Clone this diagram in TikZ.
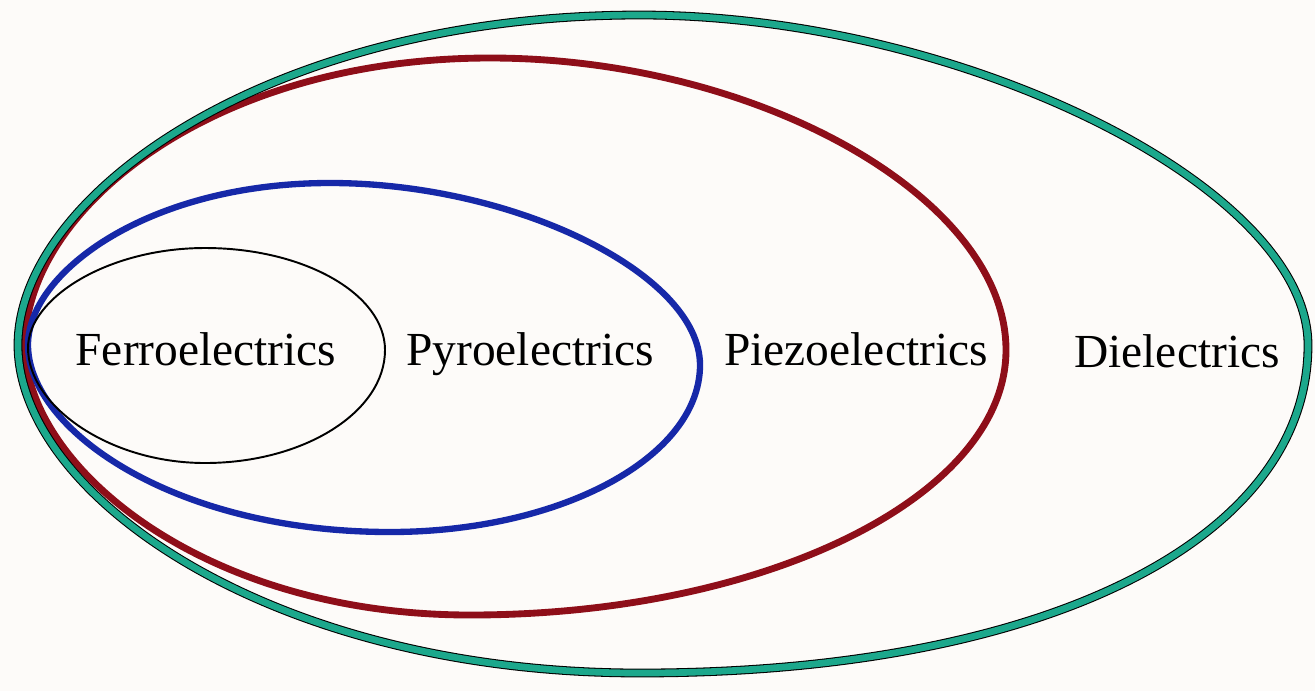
\documentclass[tikz,border=0pt]{standalone}
\usepackage{fontspec}
\setmainfont{Liberation Serif}
\usetikzlibrary{positioning}

\definecolor{paper}{RGB}{253,251,249}
\definecolor{dteal}{RGB}{28,168,140}
\definecolor{dred}{RGB}{178,18,32}
\definecolor{dblue}{RGB}{22,40,168}

\begin{document}
\begin{tikzpicture}[
        x=0.02cm, y=-0.02cm,
        rim/.style={black, line width=5pt},
        dia/.style={dteal, line width=3.8pt},
        piezo/.style={dred!80!black, line width=3.9pt},
        pyro/.style={dblue, line width=3.6pt},
        ferro/.style={black, line width=1.1pt},
        lbl/.style={anchor=base, inner sep=0pt, font=\fontsize{27}{30}\selectfont}
      ]

      % Page
      \fill[paper] (0,0) rectangle (1315,691);
      \useasboundingbox (0,0) rectangle (1315,691);

      % Piezoelectrics (red)
      \draw[piezo] (25,345) .. controls (25,210) and (211,58) .. (490,58)
        .. controls (758,58) and (1006,198) .. (1006,350)
        .. controls (1006,496) and (766,615) .. (470,615)
        .. controls (203,615) and (25,466) .. cycle;

      % Dielectrics (teal with dark rim)
      \foreach \st in {rim,dia}
        \draw[\st] (18,345) .. controls (18,196) and (267,15) .. (640,15)
          .. controls (961,15) and (1308,187) .. (1308,345)
          .. controls (1308,542) and (1041,673) .. (640,673)
          .. controls (267,673) and (18,493) .. cycle;

      % Pyroelectrics (blue)
      \draw[pyro] (28,345) .. controls (28,272) and (149,183) .. (330,183)
        .. controls (515,183) and (700,274) .. (700,365)
        .. controls (700,457) and (561,532) .. (390,532)
        .. controls (173,532) and (28,429) .. cycle;

      % Ferroelectrics (black)
      \draw[ferro] (28,348) .. controls (28,298) and (108,248) .. (205,248)
        .. controls (304,248) and (385,294) .. (385,350)
        .. controls (385,412) and (304,463) .. (205,463)
        .. controls (108,463) and (28,405) .. cycle;

      % Labels
      \node[lbl] (ferro) at (206,365) {Ferroelectrics};
      \node[lbl] (pyro) at (530,365) {Pyroelectrics};
      \node[lbl] (piezo) at (856,365) {Piezoelectrics};
      \node[lbl] (diel) at (1177,367) {Dielectrics};

\end{tikzpicture}
\end{document}
